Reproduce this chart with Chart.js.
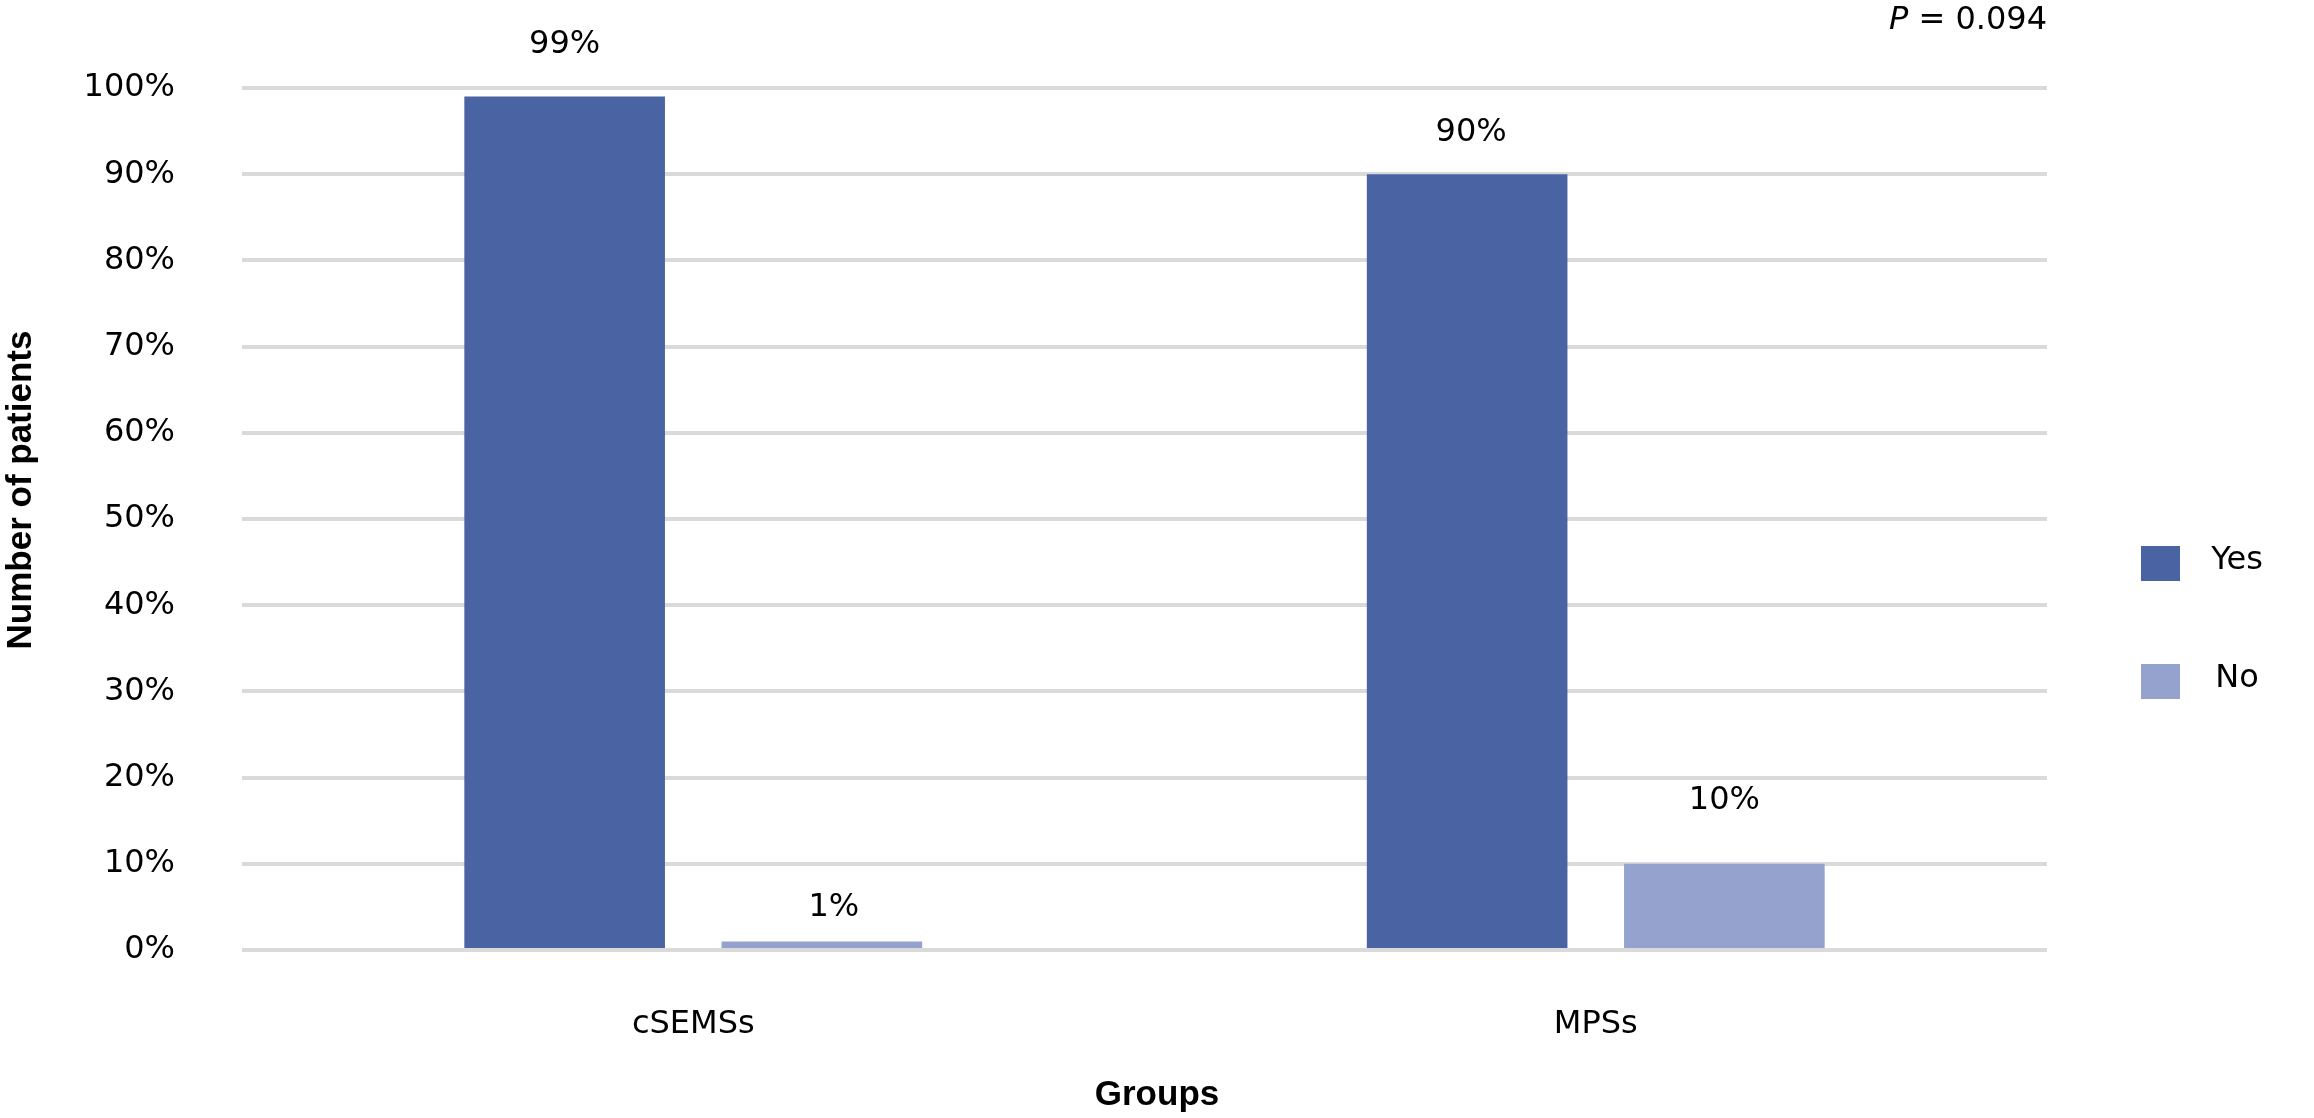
<!DOCTYPE html>
<html>
<head>
<meta charset="utf-8">
<script src="https://cdn.jsdelivr.net/npm/chart.js@4.4.0/dist/chart.umd.min.js"></script>
<style>
  body { margin: 0; background: #fff; }
  canvas { display: block; }
</style>
</head>
<body>
<canvas id="myChart" width="2314" height="1118"></canvas>
<script>
// chart data
var groups = ['cSEMSs', 'MPSs'];
var seriesNames = ['Yes', 'No'];
var yesValues = [99, 90];
var noValues = [1, 10];
var yTicks = [0, 10, 20, 30, 40, 50, 60, 70, 80, 90, 100];
var xTitle = 'Groups';
var yTitle = 'Number of patients';
var pValueText = '0.094';

var yesColor = '#4A63A2';
var noColor = '#95A2CD';
var labelFont = '32px "DejaVu Sans", Verdana, sans-serif';
var titleFont = 'bold 35px "Liberation Sans", Arial, sans-serif';

// distance of each value label above its bar (px), [dataset][index]
var labelLift = [[52, 42], [34, 63]];
var labelShift = [[0, 4], [12, 0]];

var valueLabels = {
    id: 'valueLabels',
    afterDatasetsDraw: function (chart) {
        var ctx = chart.ctx;
        ctx.save();
        ctx.font = labelFont;
        ctx.fillStyle = '#000';
        ctx.textAlign = 'center';
        ctx.textBaseline = 'middle';
        chart.data.datasets.forEach(function (ds, i) {
            var meta = chart.getDatasetMeta(i);
            meta.data.forEach(function (bar, j) {
                ctx.fillText(ds.data[j] + '%', bar.x + labelShift[i][j], bar.y - labelLift[i][j]);
            });
        });
        ctx.restore();
    }
};

var extras = {
    id: 'extras',
    afterDraw: function (chart) {
        var ctx = chart.ctx;
        var rows = [563, 681];
        ctx.save();
        // legend on the right
        ctx.font = labelFont;
        ctx.textAlign = 'center';
        ctx.textBaseline = 'middle';
        chart.data.datasets.forEach(function (ds, i) {
            ctx.fillStyle = ds.backgroundColor;
            ctx.fillRect(2141, rows[i] - 17, 39, 35);
            ctx.fillStyle = '#000';
            ctx.fillText(ds.label, 2237, rows[i] - 2);
        });
        // axis titles
        ctx.font = titleFont;
        ctx.fillText(xTitle, 1157, 1095);
        ctx.save();
        ctx.translate(21, 490);
        ctx.rotate(-Math.PI / 2);
        ctx.fillText(yTitle, 0, 0);
        ctx.restore();
        // P value in the top right corner
        var right = chart.chartArea.right;
        ctx.textAlign = 'left';
        ctx.font = labelFont;
        var rest = ' = ' + pValueText;
        var wRest = ctx.measureText(rest).width;
        ctx.font = 'italic ' + labelFont;
        var wP = ctx.measureText('P').width;
        var x0 = right - wRest - wP;
        ctx.fillText('P', x0, 21);
        ctx.font = labelFont;
        ctx.fillText(rest, x0 + wP, 21);
        ctx.restore();
    }
};

var ctx = document.getElementById('myChart').getContext('2d');
new Chart(ctx, {
    type: 'bar',
    data: {
        labels: groups,
        datasets: [
            {
                label: seriesNames[0],
                data: yesValues,
                backgroundColor: yesColor,
                categoryPercentage: 0.57,
                barPercentage: 0.78
            },
            {
                label: seriesNames[1],
                data: noValues,
                backgroundColor: noColor,
                categoryPercentage: 0.57,
                barPercentage: 0.78
            }
        ]
    },
    options: {
        responsive: false,
        devicePixelRatio: 1,
        animation: false,
        layout: { padding: { top: 88, right: 267, left: 0, bottom: 0 } },
        plugins: {
            legend: { display: false },
            tooltip: { enabled: false }
        },
        scales: {
            x: {
                grid: { display: false },
                border: { display: false },
                ticks: {
                    color: '#000',
                    padding: 47,
                    font: { family: '"DejaVu Sans", Verdana, sans-serif', size: 32 }
                },
                afterFit: function (scale) { scale.height = 168; }
            },
            y: {
                min: 0,
                max: 100,
                afterBuildTicks: function (scale) {
                    scale.ticks = yTicks.map(function (v) { return { value: v }; });
                },
                grid: { color: '#DADADA', lineWidth: 4, drawTicks: false },
                border: { display: false },
                ticks: {
                    color: '#000',
                    padding: 67,
                    font: { family: '"DejaVu Sans", Verdana, sans-serif', size: 32 },
                    callback: function (v) { return v + '%'; }
                },
                afterFit: function (scale) { scale.width = 242; }
            }
        }
    },
    plugins: [valueLabels, extras]
});
</script>
</body>
</html>
